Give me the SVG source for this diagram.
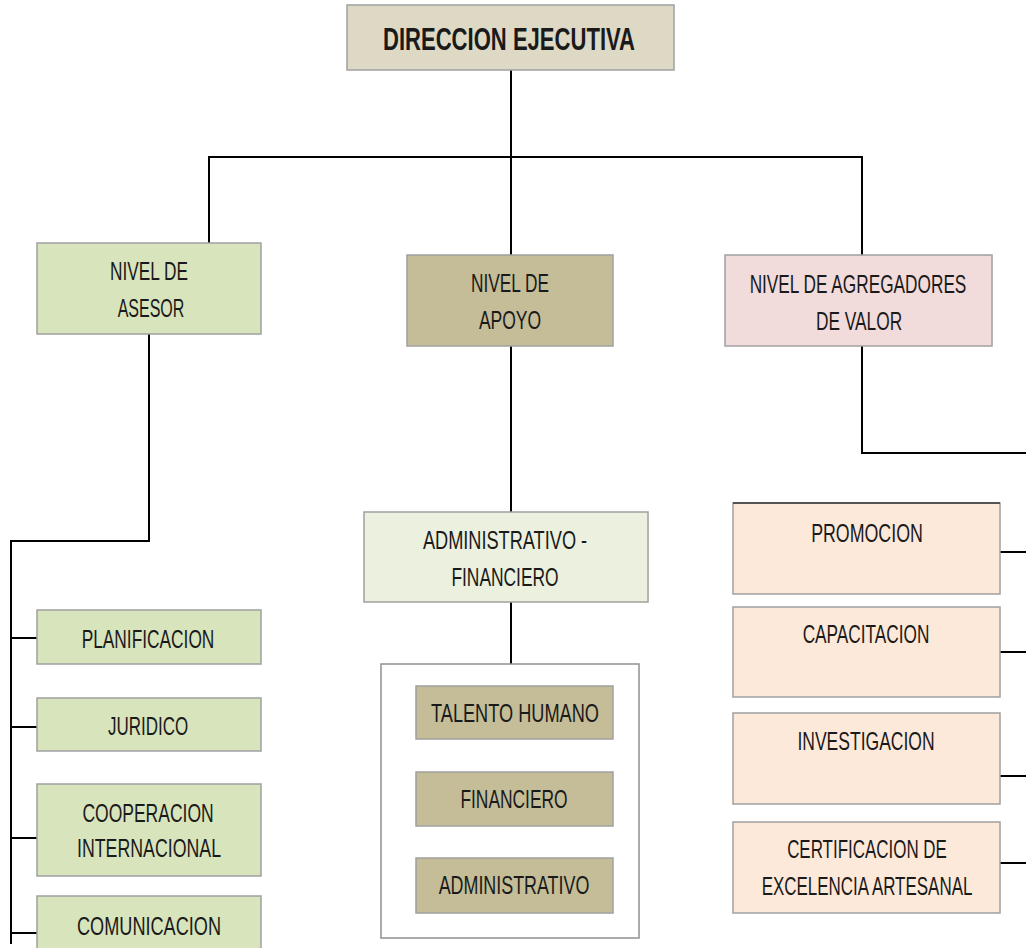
<svg xmlns="http://www.w3.org/2000/svg" width="1026" height="948" viewBox="0 0 1026 948">
<style>
.box{stroke:#a0a0a0;stroke-width:1.5}
.t{font-family:"Liberation Sans",Arial,sans-serif;font-size:25px;fill:#1a1a1a;text-anchor:middle}
.b{font-weight:bold;font-size:31px}
.c{fill:none;stroke:#000;stroke-width:2}
.g1{fill:#d8e4bc}.g2{fill:#c4bd97}.g3{fill:#f2dcdb}.g4{fill:#ebf1de}.g5{fill:#fde9d9}
</style>
<rect width="1026" height="948" fill="#fff"/>
<g id="connectors">
<path class="c" d="M511 70V512M209 243V157H862V255"/>
<path class="c" d="M149 334V541H11V944M11 638H37M11 727H37M11 838H37M11 933H37"/>
<path class="c" d="M862 346V453H1026M1000 552H1026M1000 652H1026M1000 776H1026M1000 863H1026"/>
<path class="c" d="M511 602V664"/>
</g>
<g id="direccion"><rect class="box" x="347" y="5" width="327" height="65" fill="#ddd9c4"/><text class="t b" transform="translate(509,50) scale(0.75,1)" textLength="336" lengthAdjust="spacingAndGlyphs">DIRECCION EJECUTIVA</text></g>
<g id="asesor"><rect class="box g1" x="37" y="243" width="224" height="91"/><text class="t" transform="translate(149,280) scale(0.75,1)" textLength="104" lengthAdjust="spacingAndGlyphs">NIVEL DE</text><text class="t" transform="translate(151,317) scale(0.75,1)" textLength="89" lengthAdjust="spacingAndGlyphs">ASESOR</text></g>
<g id="apoyo"><rect class="box g2" x="407" y="255" width="206" height="91"/><text class="t" transform="translate(510,292) scale(0.75,1)" textLength="104" lengthAdjust="spacingAndGlyphs">NIVEL DE</text><text class="t" transform="translate(510,329) scale(0.75,1)" textLength="83" lengthAdjust="spacingAndGlyphs">APOYO</text></g>
<g id="agregadores"><rect class="box g3" x="725" y="255" width="267" height="91"/><text class="t" transform="translate(858,293) scale(0.75,1)" textLength="289" lengthAdjust="spacingAndGlyphs">NIVEL DE AGREGADORES</text><text class="t" transform="translate(859,330) scale(0.75,1)" textLength="115" lengthAdjust="spacingAndGlyphs">DE VALOR</text></g>
<g id="adminfin"><rect class="box g4" x="364" y="512" width="284" height="90"/><text class="t" transform="translate(505,549) scale(0.75,1)" textLength="219" lengthAdjust="spacingAndGlyphs">ADMINISTRATIVO -</text><text class="t" transform="translate(505,586) scale(0.75,1)" textLength="143" lengthAdjust="spacingAndGlyphs">FINANCIERO</text></g>
<g id="contenedor"><rect x="381" y="664" width="258" height="274" fill="#fff" stroke="#909090" stroke-width="1.5"/></g>
<g id="talento"><rect class="box g2" x="416" y="686" width="197" height="53"/><text class="t" transform="translate(515,722) scale(0.75,1)" textLength="224" lengthAdjust="spacingAndGlyphs">TALENTO HUMANO</text></g>
<g id="financiero"><rect class="box g2" x="416" y="772" width="197" height="54"/><text class="t" transform="translate(514,808) scale(0.75,1)" textLength="143" lengthAdjust="spacingAndGlyphs">FINANCIERO</text></g>
<g id="administrativo"><rect class="box g2" x="416" y="858" width="197" height="55"/><text class="t" transform="translate(514,894) scale(0.75,1)" textLength="201" lengthAdjust="spacingAndGlyphs">ADMINISTRATIVO</text></g>
<g id="planificacion"><rect class="box g1" x="37" y="610" width="224" height="54"/><text class="t" transform="translate(148,648) scale(0.75,1)" textLength="177" lengthAdjust="spacingAndGlyphs">PLANIFICACION</text></g>
<g id="juridico"><rect class="box g1" x="37" y="698" width="224" height="53"/><text class="t" transform="translate(148,735) scale(0.75,1)" textLength="107" lengthAdjust="spacingAndGlyphs">JURIDICO</text></g>
<g id="cooperacion"><rect class="box g1" x="37" y="784" width="224" height="92"/><text class="t" transform="translate(148,822) scale(0.75,1)" textLength="175" lengthAdjust="spacingAndGlyphs">COOPERACION</text><text class="t" transform="translate(149,857) scale(0.75,1)" textLength="192" lengthAdjust="spacingAndGlyphs">INTERNACIONAL</text></g>
<g id="comunicacion"><rect class="box g1" x="37" y="896" width="224" height="56"/><text class="t" transform="translate(149,935) scale(0.75,1)" textLength="192" lengthAdjust="spacingAndGlyphs">COMUNICACION</text></g>
<g id="promocion"><rect class="box g5" x="733" y="503" width="267" height="91"/><line x1="733" y1="503" x2="1000" y2="503" stroke="#333" stroke-width="1.5"/><text class="t" transform="translate(867,542) scale(0.75,1)" textLength="149" lengthAdjust="spacingAndGlyphs">PROMOCION</text></g>
<g id="capacitacion"><rect class="box g5" x="733" y="607" width="267" height="90"/><text class="t" transform="translate(866,643) scale(0.75,1)" textLength="169" lengthAdjust="spacingAndGlyphs">CAPACITACION</text></g>
<g id="investigacion"><rect class="box g5" x="733" y="713" width="267" height="91"/><text class="t" transform="translate(866,750) scale(0.75,1)" textLength="183" lengthAdjust="spacingAndGlyphs">INVESTIGACION</text></g>
<g id="certificacion"><rect class="box g5" x="733" y="822" width="267" height="91"/><text class="t" transform="translate(867,858) scale(0.75,1)" textLength="213" lengthAdjust="spacingAndGlyphs">CERTIFICACION DE</text><text class="t" transform="translate(867,895) scale(0.75,1)" textLength="281" lengthAdjust="spacingAndGlyphs">EXCELENCIA ARTESANAL</text></g>
</svg>
